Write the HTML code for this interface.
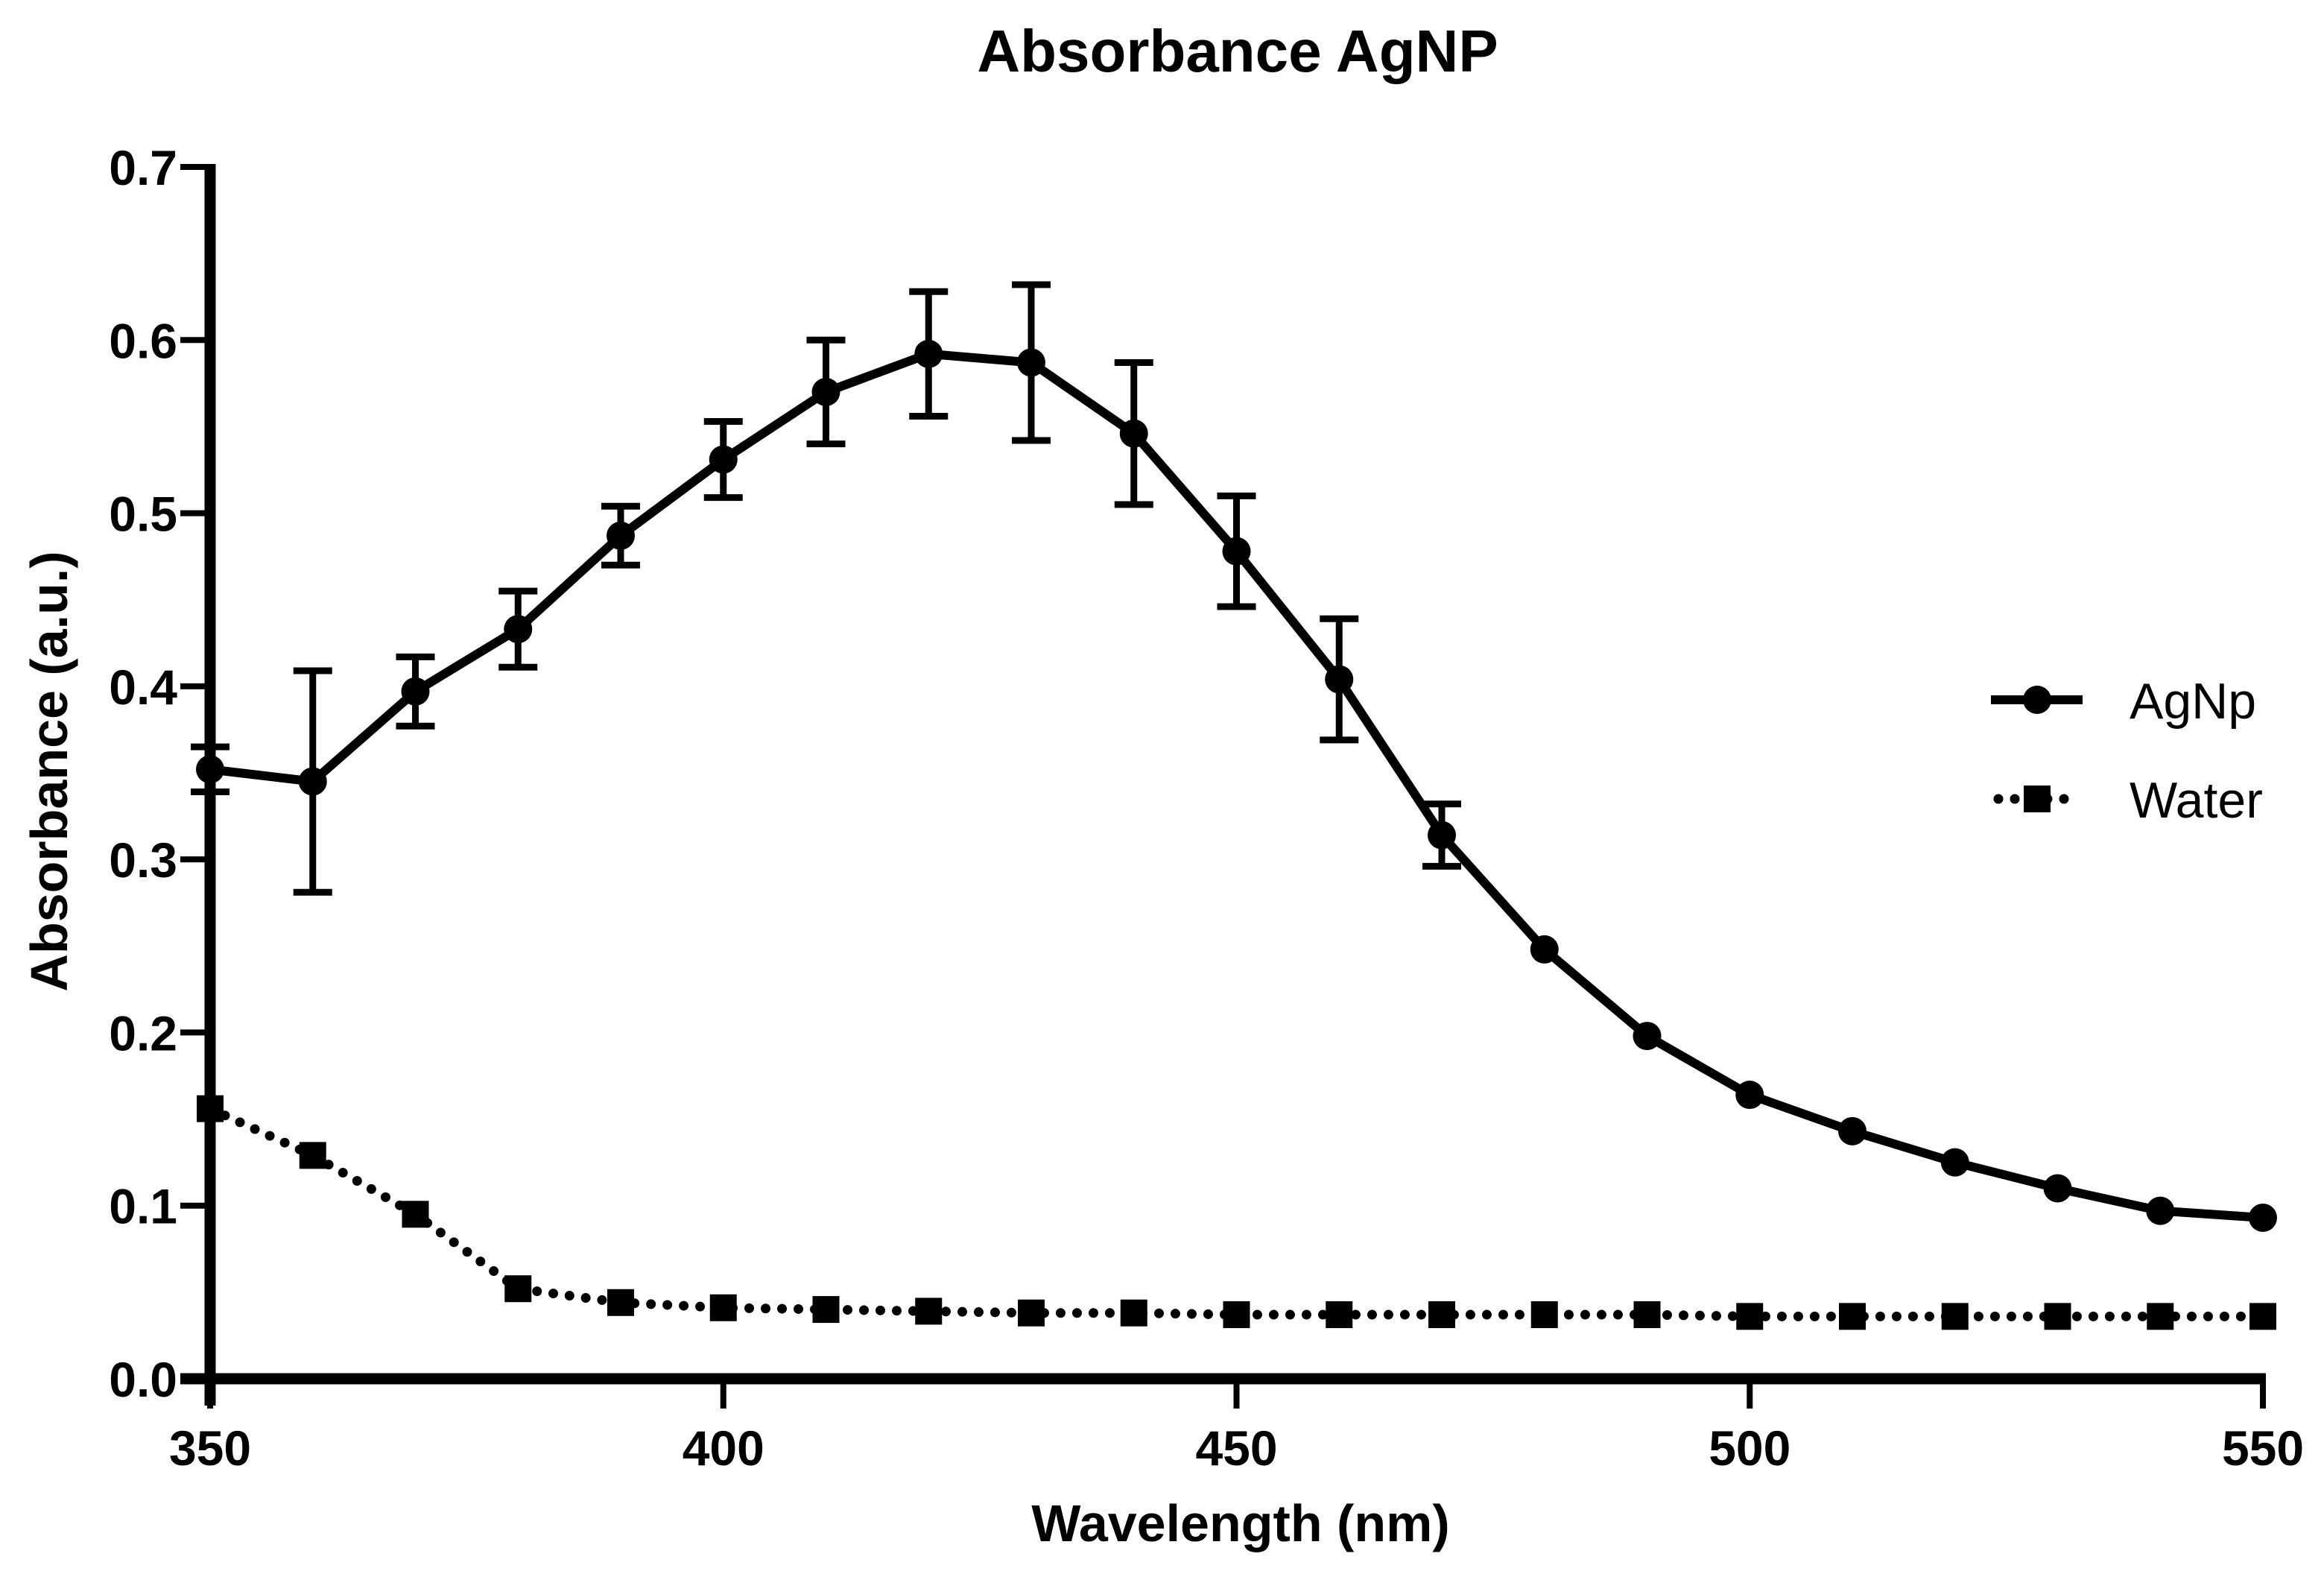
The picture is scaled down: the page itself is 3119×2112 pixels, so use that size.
<!DOCTYPE html>
<html><head><meta charset="utf-8"><style>
html,body{margin:0;padding:0;background:#fff;}
svg{display:block;font-family:"Liberation Sans",Arial,sans-serif;}
</style></head><body>
<svg id="chart" width="3119" height="2112" viewBox="0 0 3119 2112" xmlns="http://www.w3.org/2000/svg">
<text x="1661" y="96" font-size="80" font-weight="bold" text-anchor="middle">Absorbance AgNP</text>
<text transform="translate(90,1035) rotate(-90)" font-size="70" font-weight="bold" text-anchor="middle">Absorbance (a.u.)</text>
<text x="1665" y="2068" font-size="70" font-weight="bold" text-anchor="middle">Wavelength (nm)</text>
<g id="axes"></g>
<g id="series"></g>
<g>
<line x1="2672" y1="939" x2="2795" y2="939" stroke="#000" stroke-width="12"/>
<circle cx="2734" cy="939" r="19" fill="#000"/>
<text x="2858" y="964" font-size="68">AgNp</text>
<line x1="2682" y1="1072" x2="2790" y2="1072" stroke="#000" stroke-width="13" stroke-linecap="round" stroke-dasharray="0 22"/>
<rect x="2716" y="1054" width="36" height="36" fill="#000"/>
<text x="2858" y="1097" font-size="68">Water</text>
</g>
</svg>
<script>
const wavelengths=[350,360,370,380,390,400,410,420,430,440,450,460,470,480,490,500,510,520,530,540,550];
const agnp=[0.352,0.345,0.397,0.433,0.487,0.531,0.570,0.592,0.587,0.546,0.478,0.404,0.314,0.248,0.198,0.164,0.143,0.125,0.110,0.097,0.093];
const agnpErr=[0.013,0.064,0.02,0.022,0.017,0.022,0.03,0.036,0.045,0.041,0.032,0.035,0.018,0,0,0,0,0,0,0,0];
const water=[0.156,0.129,0.095,0.052,0.044,0.041,0.040,0.039,0.038,0.038,0.037,0.037,0.037,0.037,0.037,0.036,0.036,0.036,0.036,0.036,0.036];
const xTicks=[350,400,450,500,550];
const yTicks=["0.0","0.1","0.2","0.3","0.4","0.5","0.6","0.7"];
const NS="http://www.w3.org/2000/svg";
const X0=282,X1=3037,Y0=1850,Y1=224;
const sx=v=>X0+(v-350)/(550-350)*(X1-X0);
const sy=v=>Y0-(v/0.7)*(Y0-Y1);
function mk(tag,attrs,parent){const e=document.createElementNS(NS,tag);for(const k in attrs)e.setAttribute(k,attrs[k]);parent.appendChild(e);return e;}
const axes=document.getElementById('axes'),ser=document.getElementById('series');
let a=mk('line',{x1:X0,y1:Y1-4,x2:X0,y2:Y0+36,stroke:'#000','stroke-width':15},axes);


a=mk('line',{x1:X0-40,y1:Y0,x2:X1+4,y2:Y0,stroke:'#000','stroke-width':15},axes);


yTicks.forEach(t=>{const y=sy(parseFloat(t));
 const l=mk('line',{x1:X0-40,y1:y,x2:X0,y2:y,stroke:'#000','stroke-width':8},axes);
 
 
 const tx=mk('text',{x:238,y:y+24,'font-size':66,'font-weight':'bold','text-anchor':'end'},axes);tx.textContent=t;
 
 
});
xTicks.forEach(t=>{const x=sx(t);
 const l=mk('line',{x1:x,y1:Y0,x2:x,y2:Y0+40,stroke:'#000','stroke-width':8},axes);
 
 
 const tx=mk('text',{x:x,y:1966,'font-size':66,'font-weight':'bold','text-anchor':'middle'},axes);tx.textContent=t;
 
 
});
const wp=mk('polyline',{points:wavelengths.map((w,i)=>sx(w)+','+sy(water[i])).join(' '),fill:'none',stroke:'#000','stroke-width':13,'stroke-linecap':'round','stroke-dasharray':'0 22'},ser);


wavelengths.forEach((w,i)=>{const r=mk('rect',{x:sx(w)-18,y:sy(water[i])-18,width:36,height:36,fill:'#000'},ser);
 
 });
const ap=mk('polyline',{points:wavelengths.map((w,i)=>sx(w)+','+sy(agnp[i])).join(' '),fill:'none',stroke:'#000','stroke-width':12,'stroke-linejoin':'round'},ser);


wavelengths.forEach((w,i)=>{const x=sx(w),e=agnpErr[i];
 if(e>0){const g=mk('g',{stroke:'#000','stroke-width':9},ser);
  
  
  const yt=sy(agnp[i]+e),yb=sy(agnp[i]-e);
  mk('line',{x1:x,y1:yt,x2:x,y2:yb},g);
  mk('line',{x1:x-26,y1:yt,x2:x+26,y2:yt},g);
  mk('line',{x1:x-26,y1:yb,x2:x+26,y2:yb},g);}
 const c=mk('circle',{cx:x,cy:sy(agnp[i]),r:19,fill:'#000'},ser);
 
 
});
</script>
</body></html>
